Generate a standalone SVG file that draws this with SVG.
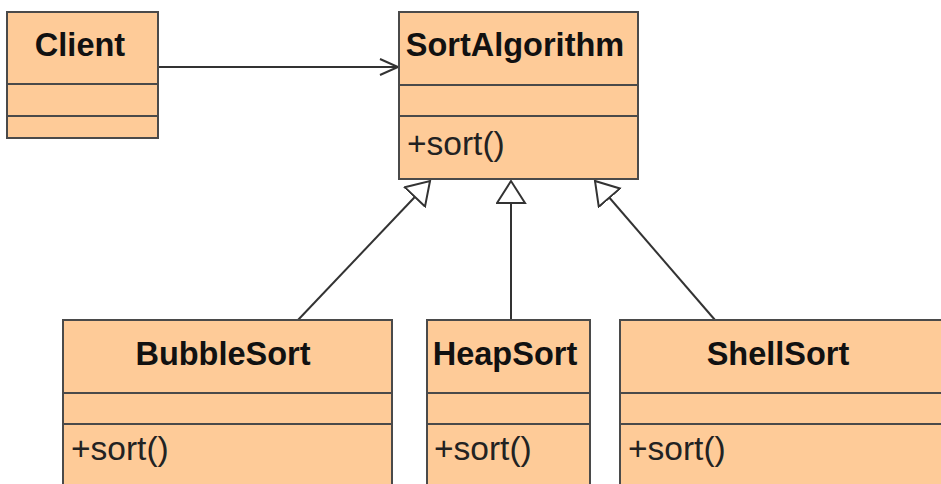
<svg xmlns="http://www.w3.org/2000/svg" width="941" height="484" viewBox="0 0 941 484">
<style>
.box{fill:#FECB98;stroke:#4a4a4a;stroke-width:2}
.div{stroke:#4a4a4a;stroke-width:2}
.title{font-family:"Liberation Sans",Arial,sans-serif;font-weight:bold;font-size:32.5px;fill:#111;text-anchor:middle}
.op{font-family:"Liberation Sans",Arial,sans-serif;font-size:33.5px;fill:#222}
.conn{stroke:#333;stroke-width:2;fill:none}
</style>
<defs>
<marker id="open" markerUnits="userSpaceOnUse" markerWidth="24" markerHeight="20" refX="20" refY="10" orient="auto">
<path d="M2,2 L20,10 L2,18" fill="none" stroke="#333" stroke-width="2"/>
</marker>
<marker id="tri" markerUnits="userSpaceOnUse" markerWidth="30" markerHeight="34" refX="23" refY="15" orient="auto">
<path d="M1,1 L23,15 L1,29 Z" fill="#fff" stroke="#333" stroke-width="2"/>
</marker>
</defs>
<rect width="941" height="484" fill="#fff"/>
<g id="connectors">
<line class="conn" x1="158" y1="67" x2="398" y2="67" marker-end="url(#open)"/>
<line class="conn" x1="298" y1="320" x2="430" y2="181" marker-end="url(#tri)"/>
<line class="conn" x1="511" y1="320" x2="511" y2="181" marker-end="url(#tri)"/>
<line class="conn" x1="715" y1="320" x2="595" y2="181" marker-end="url(#tri)"/>
</g>
<g id="Client">
<rect class="box" x="7" y="12" width="151" height="126"/>
<line class="div" x1="7" y1="84" x2="158" y2="84"/>
<line class="div" x1="7" y1="116" x2="158" y2="116"/>
<text class="title" x="80" y="56">Client</text>
</g>
<g id="SortAlgorithm">
<rect class="box" x="399" y="12" width="239" height="167"/>
<line class="div" x1="399" y1="85" x2="638" y2="85"/>
<line class="div" x1="399" y1="116" x2="638" y2="116"/>
<text class="title" x="515" y="56">SortAlgorithm</text>
<text class="op" x="407" y="155">+sort()</text>
</g>
<g id="BubbleSort">
<rect class="box" x="63" y="320" width="329" height="180"/>
<line class="div" x1="63" y1="393" x2="392" y2="393"/>
<line class="div" x1="63" y1="424" x2="392" y2="424"/>
<text class="title" x="223" y="365">BubbleSort</text>
<text class="op" x="71" y="460">+sort()</text>
</g>
<g id="HeapSort">
<rect class="box" x="427" y="320" width="163" height="180"/>
<line class="div" x1="427" y1="393" x2="590" y2="393"/>
<line class="div" x1="427" y1="424" x2="590" y2="424"/>
<text class="title" x="505" y="365">HeapSort</text>
<text class="op" x="434" y="460">+sort()</text>
</g>
<g id="ShellSort">
<rect class="box" x="620" y="320" width="340" height="180"/>
<line class="div" x1="620" y1="393" x2="941" y2="393"/>
<line class="div" x1="620" y1="424" x2="941" y2="424"/>
<text class="title" x="778" y="365">ShellSort</text>
<text class="op" x="628" y="460">+sort()</text>
</g>
</svg>
